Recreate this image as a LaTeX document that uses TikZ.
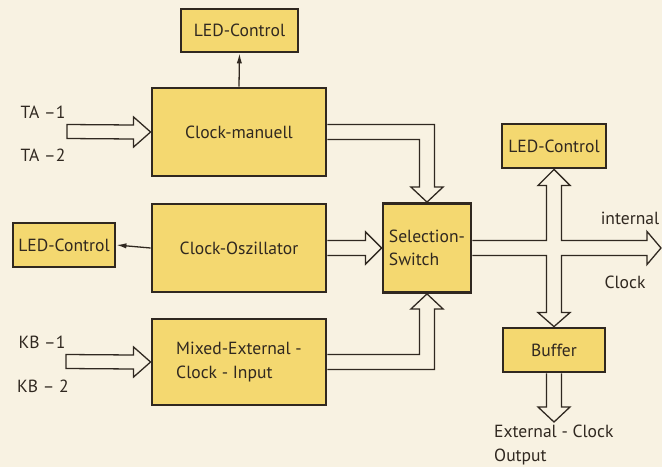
\documentclass[tikz,border=0pt]{standalone}
\usepackage{fontspec}
\setmainfont{PT Sans}
\usetikzlibrary{calc,arrows.meta}
\definecolor{paper}{RGB}{248,242,226}
\definecolor{boxfill}{RGB}{244,216,112}
\definecolor{ink}{RGB}{48,40,32}

\begin{document}
\begin{tikzpicture}[x=0.03cm, y=-0.03cm,
		font=\fontsize{15}{20}\selectfont, text=ink,
		box/.style={draw=ink, fill=boxfill, line width=2.4pt, align=left, inner sep=2pt},
		bus/.style={draw=ink, line width=1.1pt, line join=miter},
		sig/.style={draw=ink, line width=1.1pt, -{Latex[length=3mm,width=1.6mm]}},
		lbl/.style={inner sep=0pt}]
		\fill[paper] (0,0) rectangle (662,467);
		\useasboundingbox (0,0) rectangle (662,467);

		% blocks
		\node[box, minimum width=3.51cm, minimum height=1.29cm] (led1) at (239.5,30.5) {LED-Control};
		\node[box, minimum width=5.22cm, minimum height=2.64cm] (man) at (239,132) {Clock-manuell};
		\node[box, minimum width=5.22cm, minimum height=2.64cm] (osc) at (239,248) {Clock-Oszillator};
		\node[box, minimum width=3.06cm, minimum height=1.32cm] (ledl) at (64,245) {LED-Control};
		\node[box, minimum width=5.22cm, minimum height=2.58cm] (mix) at (239,362) {Mixed-External -\\Clock - Input};
		\node[box, minimum width=2.64cm, minimum height=2.67cm] (sel) at (427,248) {Selection-\\Switch};
		\node[box, minimum width=3.12cm, minimum height=1.32cm] (ledr) at (554,146) {LED-Control};
		\node[box, minimum width=3.06cm, minimum height=1.32cm] (buf) at (554,350) {Buffer};

		% labels
		\node[lbl] (ta1) at (43,112) {TA –1};
		\node[lbl] (ta2) at (43,155) {TA –2};
		\node[lbl] (kb1) at (42,342) {KB –1};
		\node[lbl] (kb2) at (43,386) {KB – 2};
		\node[lbl] (intl) at (630,218) {internal};
		\node[lbl] (clk) at (625,282) {Clock};
		\node[lbl, anchor=north west, align=left] (extout) at (494,425) {External - Clock\\Output};

		\coordinate (ta) at (67,131.5);
		\coordinate (kb) at (66,361.5);
		\coordinate (out) at (661,248);
		\coordinate (ext) at (554,422);

		% single lines
		\draw[sig] (man.north) -- (led1.south);
		\draw[sig] (osc.west) -- (ledl.east);

		% bus arrows
		\draw[bus] ($(ta)+(0,-7)$) -- ($(man.west)+(-17,-7)$) -- ++(0,-8) -- (man.west) -- ++(-17,15) -- ++(0,-8) -- ($(ta)+(0,7)$) -- cycle;
		\draw[bus] ($(kb)+(0,-7)$) -- ($(mix.west)+(-17,-7)$) -- ++(0,-8) -- (mix.west) -- ++(-17,15) -- ++(0,-8) -- ($(kb)+(0,7)$) -- cycle;
		\draw[bus] ($(man.east)+(0,-7.5)$) -| ($(sel.north)+(7.5,-15)$) -- ++(8.5,0) -- (sel.north) -- ++(-16,-15) -- ++(8.5,0) |- ($(man.east)+(0,7.5)$);
		\draw[bus] ($(osc.east)+(0,-7.5)$) -- ($(sel.west)+(-16,-7.5)$) -- ++(0,-8.5) -- (sel.west) -- ++(-16,16) -- ++(0,-8.5) -- ($(osc.east)+(0,7.5)$);
		\draw[bus] ($(mix.east)+(0,7.5)$) -| ($(sel.south)+(7.5,15)$) -- ++(8.5,0) -- (sel.south) -- ++(-16,15) -- ++(8.5,0) |- ($(mix.east)+(0,-7.5)$);
		\draw[bus] ($(sel.east)+(0,-7.5)$) -| ($(ledr.south)+(-7.5,16)$) -- ++(-8.5,0) -- (ledr.south) -- ++(16,16) -- ++(-8.5,0)
			|- ($(out)+(-14,-7.5)$) -- ++(0,-9) -- (out) -- ++(-14,16.5) -- ++(0,-9)
			-| ($(buf.north)+(7.5,-14)$) -- ++(8.5,0) -- (buf.north) -- ++(-16,-14) -- ++(8.5,0) |- ($(sel.east)+(0,7.5)$);
		\draw[bus] ($(buf.south)+(-7.5,0)$) -- ($(ext)+(-7.5,-15)$) -- ++(-8.5,0) -- (ext) -- ++(16,-15) -- ++(-8.5,0) -- ($(buf.south)+(7.5,0)$);
	\end{tikzpicture}
\end{document}
